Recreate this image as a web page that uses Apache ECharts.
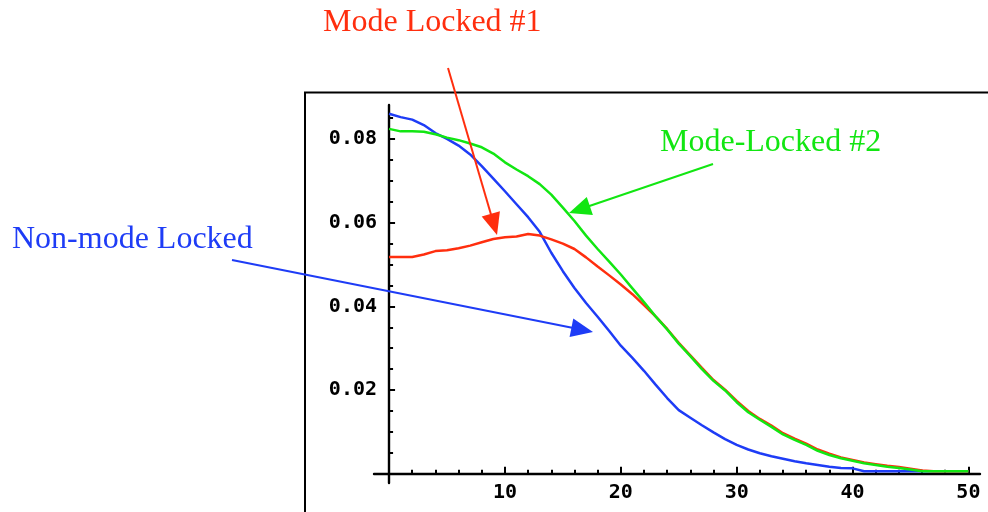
<!DOCTYPE html>
<html>
<head>
<meta charset="utf-8">
<script src="https://cdn.jsdelivr.net/npm/echarts@6/dist/echarts.min.js"></script>
<style>
  html, body { margin: 0; padding: 0; background: #ffffff; }
  #chart { width: 988px; height: 512px; }
</style>
</head>
<body>
<div id="chart"></div>
<script>
// Position along the pulse (x) and the three intensity profiles
const xValues = [
  0, 1, 2, 3, 4, 5, 6, 7, 8, 9, 10, 11, 12, 13, 14, 15, 16, 17, 18, 19, 20,
  21, 22, 23, 24, 25, 26, 27, 28, 29, 30, 31, 32, 33, 34, 35, 36, 37, 38, 39, 40,
  41, 42, 43, 44, 45, 46, 47, 48, 49, 50
];
const nonModeLocked = [
  0.0860, 0.0852, 0.0846, 0.0833, 0.0814, 0.0800, 0.0784, 0.0763, 0.0735, 0.0705, 0.0675,
  0.0644, 0.0613, 0.0578, 0.0528, 0.0484, 0.0444, 0.0408, 0.0375, 0.0341, 0.0306,
  0.0277, 0.0246, 0.0213, 0.0181, 0.0152, 0.0134, 0.0116, 0.0099, 0.0083, 0.0069,
  0.0058, 0.0049, 0.0042, 0.0036, 0.0030, 0.0025, 0.0021, 0.0017, 0.0014, 0.0013,
  0.0006, 0.0006, 0.0006, 0.0006, 0.0006, 0.0006, 0.0006, 0.0006, 0.0006, 0.0006
];
const modeLocked1 = [
  0.0518, 0.0518, 0.0518, 0.0524, 0.0532, 0.0534, 0.0539, 0.0545, 0.0553, 0.0561, 0.0565,
  0.0567, 0.0573, 0.0569, 0.0560, 0.0550, 0.0537, 0.0517, 0.0495, 0.0474, 0.0452,
  0.0429, 0.0403, 0.0376, 0.0346, 0.0313, 0.0283, 0.0253, 0.0224, 0.0201, 0.0174,
  0.0150, 0.0131, 0.0115, 0.0097, 0.0084, 0.0072, 0.0058, 0.0048, 0.0039, 0.0033,
  0.0027, 0.0023, 0.0019, 0.0016, 0.0012, 0.0008, 0.0006, 0.0006, 0.0006, 0.0006
];
const modeLocked2 = [
  0.0824, 0.0818, 0.0818, 0.0817, 0.0811, 0.0803, 0.0797, 0.0789, 0.0780, 0.0765, 0.0744,
  0.0727, 0.0711, 0.0692, 0.0667, 0.0636, 0.0604, 0.0569, 0.0537, 0.0507, 0.0476,
  0.0443, 0.0410, 0.0376, 0.0345, 0.0311, 0.0281, 0.0250, 0.0222, 0.0199, 0.0171,
  0.0147, 0.0129, 0.0112, 0.0094, 0.0081, 0.0069, 0.0055, 0.0045, 0.0037, 0.0031,
  0.0025, 0.0021, 0.0017, 0.0014, 0.0010, 0.0006, 0.0006, 0.0006, 0.0006, 0.0006
];

// Tick marks and labels
const xLabelValues = [10, 20, 30, 40, 50];
const xMajorTicks = [0, 10, 20, 30, 40, 50];
const xMinorTicks = [0, 2, 4, 6, 8, 10, 12, 14, 16, 18, 20, 22, 24, 26, 28, 30,
  32, 34, 36, 38, 40, 42, 44, 46, 48, 50];
const yLabelValues = [0.02, 0.04, 0.06, 0.08];
const yMinorTicks = [0, 0.005, 0.01, 0.015, 0.02, 0.025, 0.03, 0.035, 0.04,
  0.045, 0.05, 0.055, 0.06, 0.065, 0.07, 0.075, 0.08, 0.085];

const seriesNames = ['Non-mode Locked', 'Mode Locked #1', 'Mode-Locked #2'];

const BLUE = '#1e3cf6';
const RED = '#ff2e0e';
const GREEN = '#12e612';
const AXIS_FONT = '"DejaVu Sans Mono", monospace';
const NOTE_FONT = '"Liberation Serif", "Times New Roman", serif';

const X_MIN = -1.3, X_MAX = 51;
const Y_MIN = -0.0022, Y_MAX = 0.0881;

function pairs(values) {
  return xValues.map((x, i) => [x, values[i]]);
}

// Annotation arrow: a shaft from the tail plus a filled head at the tip
function arrow(tail, tip, color) {
  const dx = tip[0] - tail[0], dy = tip[1] - tail[1];
  const len = Math.sqrt(dx * dx + dy * dy);
  const ux = dx / len, uy = dy / len;
  const headLen = 22, halfW = 9.5;
  const bx = tip[0] - ux * headLen, by = tip[1] - uy * headLen;
  return [
    {
      type: 'line', silent: true, z: 10,
      shape: { x1: tail[0], y1: tail[1], x2: bx + ux * 2, y2: by + uy * 2 },
      style: { stroke: color, lineWidth: 2 }
    },
    {
      type: 'polygon', silent: true, z: 10,
      shape: { points: [tip, [bx - uy * halfW, by + ux * halfW], [bx + uy * halfW, by - ux * halfW]] },
      style: { fill: color }
    }
  ];
}

function note(text, x, y, color) {
  return {
    type: 'text', silent: true, z: 10, x: x, y: y,
    style: {
      text: text, fill: color,
      font: '32px ' + NOTE_FONT,
      align: 'left', verticalAlign: 'middle',
      textAlign: 'left', textVerticalAlign: 'middle'
    }
  };
}

const gridBox = { left: 374, top: 105, width: 606, height: 378 };

const chart = echarts.init(document.getElementById('chart'), null, { renderer: 'canvas' });

chart.setOption({
  animation: false,
  backgroundColor: '#ffffff',
  grid: [
    Object.assign({ containLabel: false }, gridBox),
    Object.assign({ containLabel: false }, gridBox)
  ],
  xAxis: [
    {
      type: 'value', gridIndex: 0, min: X_MIN, max: X_MAX,
      axisLine: { show: true, onZero: true, lineStyle: { color: '#000', width: 2.4 } },
      axisTick: { show: true, inside: true, length: 4, customValues: xMinorTicks,
        lineStyle: { color: '#000', width: 2 } },
      axisLabel: { show: true, customValues: xLabelValues, margin: 0,
        fontFamily: AXIS_FONT, fontWeight: 'bold', fontSize: 20, color: '#000' },
      splitLine: { show: false }
    },
    {
      type: 'value', gridIndex: 1, min: X_MIN, max: X_MAX,
      axisLine: { show: false, onZero: true },
      axisTick: { show: true, inside: true, length: 7, customValues: xMajorTicks,
        lineStyle: { color: '#000', width: 2 } },
      axisLabel: { show: false },
      splitLine: { show: false }
    }
  ],
  yAxis: [
    {
      type: 'value', gridIndex: 0, min: Y_MIN, max: Y_MAX,
      axisLine: { show: true, onZero: true, lineStyle: { color: '#000', width: 2.4 } },
      axisTick: { show: true, inside: true, length: 4, customValues: yMinorTicks,
        lineStyle: { color: '#000', width: 2 } },
      axisLabel: { show: true, customValues: yLabelValues, margin: -3,
        formatter: v => v.toFixed(2),
        fontFamily: AXIS_FONT, fontWeight: 'bold', fontSize: 20, color: '#000' },
      splitLine: { show: false }
    },
    {
      type: 'value', gridIndex: 1, min: Y_MIN, max: Y_MAX,
      axisLine: { show: false, onZero: true },
      axisTick: { show: true, inside: true, length: 6, customValues: yLabelValues,
        lineStyle: { color: '#000', width: 2 } },
      axisLabel: { show: false },
      splitLine: { show: false }
    }
  ],
  series: [
    {
      name: seriesNames[0], type: 'line', xAxisIndex: 0, yAxisIndex: 0,
      data: pairs(nonModeLocked), showSymbol: false, smooth: false, z: 3,
      lineStyle: { color: BLUE, width: 2.5 }, itemStyle: { color: BLUE }
    },
    {
      name: seriesNames[1], type: 'line', xAxisIndex: 0, yAxisIndex: 0,
      data: pairs(modeLocked1), showSymbol: false, smooth: false, z: 4,
      lineStyle: { color: RED, width: 2.5 }, itemStyle: { color: RED }
    },
    {
      name: seriesNames[2], type: 'line', xAxisIndex: 0, yAxisIndex: 0,
      data: pairs(modeLocked2), showSymbol: false, smooth: false, z: 5,
      lineStyle: { color: GREEN, width: 2.5 }, itemStyle: { color: GREEN }
    }
  ],
  graphic: [
    // Frame around the plot area
    {
      type: 'polyline', silent: true, z: 1,
      shape: { points: [[305, 520], [305, 92.5], [995, 92.5]] },
      style: { stroke: '#000', lineWidth: 2, fill: null }
    },
    note(seriesNames[1], 323, 23, RED),
    note(seriesNames[2], 660, 143, GREEN),
    note(seriesNames[0], 12, 240, BLUE)
  ]
    .concat(arrow([448, 68], [497, 235], RED))
    .concat(arrow([713, 164], [569, 213], GREEN))
    .concat(arrow([232, 260], [593, 332], BLUE))
});
</script>
</body>
</html>
